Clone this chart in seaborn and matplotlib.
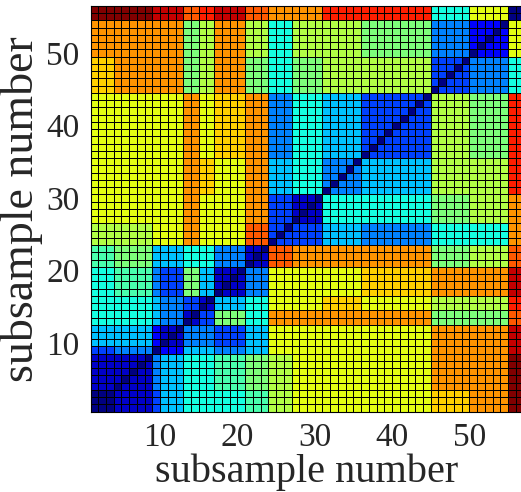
import numpy as np
import matplotlib
matplotlib.use("Agg")
import matplotlib.pyplot as plt
import seaborn as sns

# groups of subsamples along the diagonal (sizes, in order 1..56)
group_sizes = [3, 5, 1, 3, 2, 2, 4, 3, 3, 4, 5, 9, 5, 5, 2]
# colour level of each block, 0 = navy ... 16 = dark red (upper triangle, row by row)
block_rows = [
    "013566679aaabcg",
    "14566789aaaccg",
    "025545aaaaccf",
    "14435aaaaccf",
    "1386cccc88d",
    "156aaba99e",
    "14aaabccf",
    "1dccc89d",
    "335466c",
    "16689c",
    "4599e",
    "398e",
    "346",
    "2a",
    "0",
]
tick_vals = [10, 20, 30, 40, 50]

lv = "0123456789abcdefg"
ng = len(group_sizes)
B = np.zeros((ng, ng))
for i, r in enumerate(block_rows):
    for k, ch in enumerate(r):
        B[i, i + k] = lv.index(ch)
        B[i + k, i] = lv.index(ch)
lab = np.repeat(np.arange(ng), group_sizes)
M = B[lab][:, lab] / 16.0
np.fill_diagonal(M, 0)

sns.set_style("white")
plt.rcParams["font.family"] = ["Liberation Serif", "DejaVu Serif"]

fig = plt.figure(figsize=(5.21, 4.92), dpi=100)
ax = fig.add_axes([90.5 / 521, 80.3 / 492, 433 / 521, 405.7 / 492])
sns.heatmap(M, ax=ax, cmap="jet", vmin=0, vmax=1, cbar=False,
            linewidths=0.6, linecolor="black", square=False)
ax.invert_yaxis()
pos = [v - 1 for v in tick_vals]
ax.set_xticks(pos)
ax.set_xticklabels(tick_vals, rotation=0)
ax.set_yticks(pos)
ax.set_yticklabels(tick_vals, rotation=0)
ax.tick_params(labelsize=24, length=0, pad=8)
ax.set_xlabel("subsample number", fontsize=29, labelpad=0)
ax.set_ylabel("subsample number", fontsize=33, labelpad=2)
for s in ax.spines.values():
    s.set_visible(True)
    s.set_color("black")
fig.savefig("out.png", dpi=100)
